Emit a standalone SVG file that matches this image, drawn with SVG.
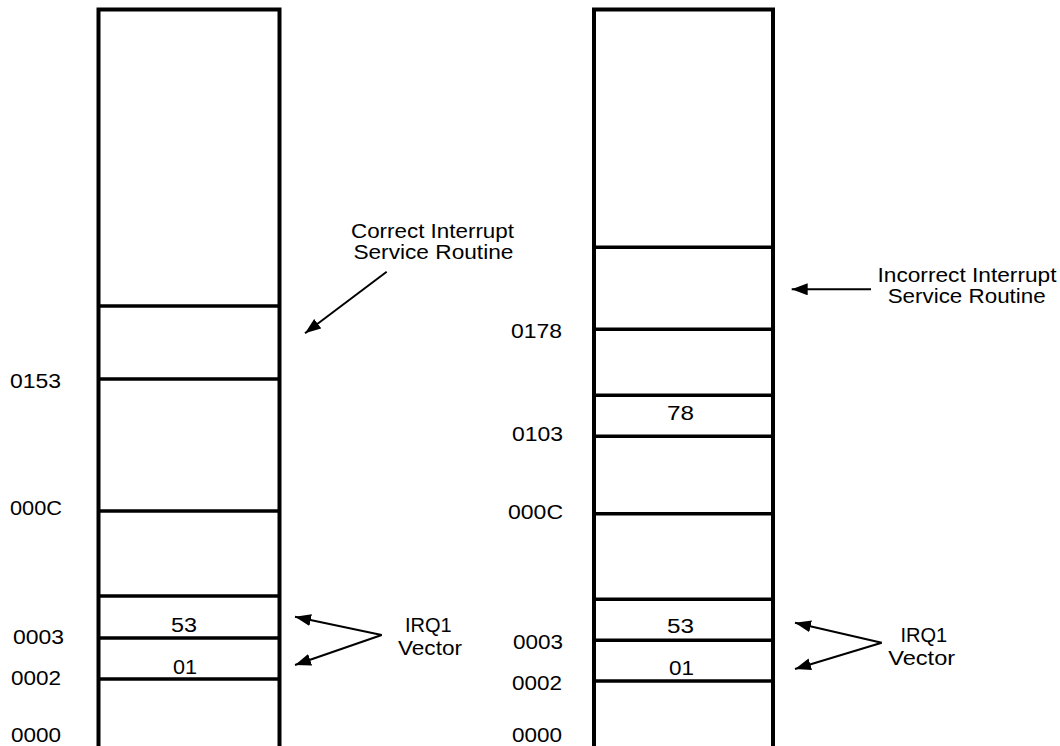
<svg xmlns="http://www.w3.org/2000/svg" width="1060" height="746" viewBox="0 0 1060 746">
<style>
text{font-family:"Liberation Sans",Arial,sans-serif;font-size:20px;fill:#000}
.mid{text-anchor:middle}
.box{fill:none;stroke:#000;stroke-width:4}
.div{stroke:#000;stroke-width:3.5}
.arr{stroke:#000;stroke-width:2;fill:none;marker-end:url(#ah)}
</style>
<defs>
<marker id="ah" markerUnits="userSpaceOnUse" markerWidth="20" markerHeight="14" refX="16" refY="6" orient="auto">
<path d="M0,0 L16,6 L0,12 z" fill="#000"/>
</marker>
</defs>
<g id="memory-left">
<path class="box" d="M98.5,750 V9.5 H279.5 V750"/>
<line class="div" x1="98.5" y1="306" x2="279.5" y2="306"/>
<line class="div" x1="98.5" y1="379" x2="279.5" y2="379"/>
<line class="div" x1="98.5" y1="511" x2="279.5" y2="511"/>
<line class="div" x1="98.5" y1="596" x2="279.5" y2="596"/>
<line class="div" x1="98.5" y1="638" x2="279.5" y2="638"/>
<line class="div" x1="98.5" y1="679" x2="279.5" y2="679"/>
<text x="171" y="632.3" textLength="26" lengthAdjust="spacingAndGlyphs">53</text>
<text x="173" y="674.3" textLength="24" lengthAdjust="spacingAndGlyphs">01</text>
</g>
<g id="labels-left">
<text x="10" y="387.7" textLength="51" lengthAdjust="spacingAndGlyphs">0153</text>
<text x="10" y="515" textLength="52" lengthAdjust="spacingAndGlyphs">000C</text>
<text x="13" y="644.3" textLength="51" lengthAdjust="spacingAndGlyphs">0003</text>
<text x="11" y="685.3" textLength="50" lengthAdjust="spacingAndGlyphs">0002</text>
<text x="11" y="742" textLength="50" lengthAdjust="spacingAndGlyphs">0000</text>
</g>
<g id="memory-right">
<path class="box" d="M594,750 V9.5 H773 V750"/>
<line class="div" x1="594" y1="247.3" x2="773" y2="247.3"/>
<line class="div" x1="594" y1="329.3" x2="773" y2="329.3"/>
<line class="div" x1="594" y1="395.3" x2="773" y2="395.3"/>
<line class="div" x1="594" y1="436.3" x2="773" y2="436.3"/>
<line class="div" x1="594" y1="513.7" x2="773" y2="513.7"/>
<line class="div" x1="594" y1="599.3" x2="773" y2="599.3"/>
<line class="div" x1="594" y1="640.3" x2="773" y2="640.3"/>
<line class="div" x1="594" y1="681" x2="773" y2="681"/>
<text x="667" y="420" textLength="27" lengthAdjust="spacingAndGlyphs">78</text>
<text x="667" y="633.3" textLength="27" lengthAdjust="spacingAndGlyphs">53</text>
<text x="669" y="675" textLength="25" lengthAdjust="spacingAndGlyphs">01</text>
</g>
<g id="labels-right">
<text x="511" y="337.7" textLength="51" lengthAdjust="spacingAndGlyphs">0178</text>
<text x="512" y="440.7" textLength="51" lengthAdjust="spacingAndGlyphs">0103</text>
<text x="508" y="519.3" textLength="55" lengthAdjust="spacingAndGlyphs">000C</text>
<text x="513" y="649" textLength="50" lengthAdjust="spacingAndGlyphs">0003</text>
<text x="512" y="690" textLength="50" lengthAdjust="spacingAndGlyphs">0002</text>
<text x="512" y="742" textLength="50" lengthAdjust="spacingAndGlyphs">0000</text>
</g>
<g id="note-correct">
<text class="mid" x="432.5" y="237.5" textLength="163" lengthAdjust="spacingAndGlyphs">Correct Interrupt</text>
<text class="mid" x="433.4" y="258.5" textLength="160" lengthAdjust="spacingAndGlyphs">Service Routine</text>
</g>
<g id="note-incorrect">
<text class="mid" x="967" y="281.7" textLength="179" lengthAdjust="spacingAndGlyphs">Incorrect Interrupt</text>
<text class="mid" x="966.7" y="303" textLength="158" lengthAdjust="spacingAndGlyphs">Service Routine</text>
</g>
<g id="note-irq-left">
<text class="mid" x="428.3" y="631.7">IRQ1</text>
<text class="mid" x="430" y="655" textLength="64" lengthAdjust="spacingAndGlyphs">Vector</text>
</g>
<g id="note-irq-right">
<text class="mid" x="923.8" y="641.7">IRQ1</text>
<text class="mid" x="921.7" y="665" textLength="67" lengthAdjust="spacingAndGlyphs">Vector</text>
</g>
<g id="connectors">
<line class="arr" x1="386.7" y1="271.7" x2="305" y2="333.3"/>
<line class="arr" x1="871" y1="289.3" x2="791.7" y2="289.3"/>
<line class="arr" x1="381.7" y1="635" x2="295" y2="616.7"/>
<line class="arr" x1="381.7" y1="635" x2="295" y2="665"/>
<line class="arr" x1="881.7" y1="642.7" x2="795" y2="622.7"/>
<line class="arr" x1="881.7" y1="642.7" x2="795" y2="669"/>
</g>
</svg>
